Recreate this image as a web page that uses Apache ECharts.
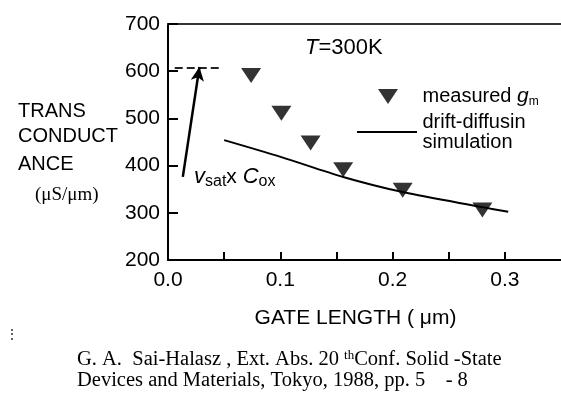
<!DOCTYPE html>
<html><head><meta charset="utf-8">
<script src="https://cdn.jsdelivr.net/npm/echarts@6/dist/echarts.min.js"></script>
<style>html,body{margin:0;padding:0;background:#fff;overflow:hidden}#c{width:561px;height:401px}</style>
</head><body><div id="c"></div>
<script>
const gateLength = [0.074, 0.101, 0.127, 0.156, 0.209, 0.280];
const measuredGm = [591, 511, 448, 391, 348, 306];
const simLength = [0.050, 0.101, 0.156, 0.209, 0.280, 0.303];
const simGm = [454, 418, 376, 344, 312, 302];
const yTicks = [200, 300, 400, 500, 600, 700];
const xTickLabels = ['0.0', '0.1', '0.2', '0.3'];
const vsatLevel = 607;
const arrowFrom = [0.0132, 376];
const arrowTo = [0.028, 609];

const F = '"Liberation Sans", Arial, sans-serif';
const S = '"Liberation Serif", "Times New Roman", serif';
const chart = echarts.init(document.getElementById('c'));
chart.setOption({
  animation: false,
  backgroundColor: '#fff',
  textStyle: {fontFamily: F, color: '#000'},
  grid: {left: 168, right: -4, top: 24, bottom: 141},
  xAxis: [{
    type: 'value', min: 0, max: 0.35, interval: 0.05,
    axisLine: {lineStyle: {color: '#000', width: 2}},
    axisTick: {inside: true, length: 8, lineStyle: {color: '#000', width: 2}},
    splitLine: {show: false},
    axisLabel: {fontSize: 21, color: '#000', margin: 10, fontFamily: F, showMaxLabel: false,
      formatter: v => { const i = Math.round(v * 20); return i % 2 === 0 ? (xTickLabels[i / 2] || '') : ''; }},
    name: 'GATE LENGTH ( μm)', nameLocation: 'middle', nameGap: 48,
    nameTextStyle: {fontSize: 21, color: '#000', fontFamily: F, padding: [0, 18, 0, 0]}
  }, {
    type: 'value', position: 'top', min: 0, max: 1,
    axisLine: {show: true, lineStyle: {color: '#333', width: 2}},
    axisTick: {show: false}, axisLabel: {show: false}, splitLine: {show: false}
  }],
  yAxis: {
    type: 'value', min: yTicks[0], max: yTicks[yTicks.length - 1], interval: 100,
    axisLine: {show: true, lineStyle: {color: '#000', width: 2}},
    axisTick: {show: true, inside: true, length: 10, lineStyle: {color: '#000', width: 2}},
    splitLine: {show: false},
    axisLabel: {fontSize: 21, color: '#000', margin: 8, fontFamily: F}
  },
  legend: [{
    data: [{name: 'measured', icon: 'path://M0,0L20,0L10,15Z'}], left: 373, top: 81, orient: 'vertical',
    itemWidth: 21, itemHeight: 15, itemGap: 0,
    formatter: () => '{a|measured }{g|g}{s|m}',
    textStyle: {color: '#000', fontFamily: F, fontSize: 20, padding: [0, 0, 0, 19],
      rich: {a: {fontSize: 20, fontFamily: F}, g: {fontSize: 21, fontStyle: 'italic', fontFamily: F},
             s: {fontSize: 12, fontFamily: F, verticalAlign: 'bottom', padding: [10, 0, 0, 0]}}}
  }, {
    data: [{name: 'sim', icon: 'path://M0,0L60,0L60,2L0,2Z'}], left: 352, top: 107, orient: 'vertical',
    itemWidth: 61, itemHeight: 2, itemGap: 0,
    formatter: () => 'drift-diffusin\nsimulation',
    textStyle: {color: '#000', fontFamily: F, fontSize: 20, lineHeight: 20, padding: [0, 0, 0, 0]}
  }],
  series: [{
    name: 'measured', type: 'scatter',
    data: gateLength.map((x, i) => [x, measuredGm[i]]),
    symbol: 'triangle', symbolRotate: 180, symbolSize: [20, 15],
    itemStyle: {color: '#000'}
  }, {
    name: 'sim', type: 'line', smooth: 0.3, symbol: 'none', showSymbol: false,
    data: simLength.map((x, i) => [x, simGm[i]]),
    lineStyle: {color: '#000', width: 2}, itemStyle: {color: '#000'},
    markLine: {
      silent: true, animation: false, label: {show: false},
      data: [
        [{coord: [0.006, vsatLevel], symbol: 'none', lineStyle: {type: [8, 4], width: 2, color: '#222'}},
         {coord: [0.046, vsatLevel], symbol: 'none'}],
        [{coord: arrowFrom, symbol: 'none', lineStyle: {type: 'solid', width: 2.5, color: '#000'}},
         {coord: arrowTo, symbol: 'arrow', symbolSize: [10, 14]}]
      ]
    }
  }],
  graphic: [
    {type: 'text', left: 305, top: 37, style: {text: '{i|T}=300K', fill: '#000', font: '22px ' + F,
      rich: {i: {fontStyle: 'italic', fontSize: 22, fontFamily: F}}}},
    {type: 'text', left: 194, top: 166, style: {text: '{v|v}{s|sat}{n|x }{v|C}{s|ox}', fill: '#000',
      rich: {v: {fontStyle: 'italic', fontSize: 22, fontFamily: F}, n: {fontSize: 21, fontFamily: F},
             s: {fontSize: 16, fontFamily: F, padding: [9, 0, 0, 0]}}}},
    {type: 'text', left: 18, top: 101, style: {text: 'TRANS', fill: '#000', font: '20px ' + F}},
    {type: 'text', left: 18, top: 126, style: {text: 'CONDUCT', fill: '#000', font: '20px ' + F}},
    {type: 'text', left: 18, top: 154, style: {text: 'ANCE', fill: '#000', font: '20px ' + F}},
    {type: 'text', left: 35, top: 186, style: {text: '(μS/μm)', fill: '#000', font: '19px ' + S}},
    {type: 'text', left: 6, top: 329, style: {text: '⋮', fill: '#000', font: '12px ' + F}},
    {type: 'text', left: 77, top: 349, style: {text: 'G. A.  Sai-Halasz , Ext. Abs. 20 {t|th}Conf. Solid -State', fill: '#000',
      font: '20.5px ' + S, rich: {t: {fontSize: 13, fontFamily: S, padding: [0, 0, 8, 0]}}}},
    {type: 'text', left: 77, top: 370, style: {text: 'Devices and Materials, Tokyo, 1988, pp. 5    - 8', fill: '#000', font: '20.5px ' + S}}
  ]
});
</script></body></html>
